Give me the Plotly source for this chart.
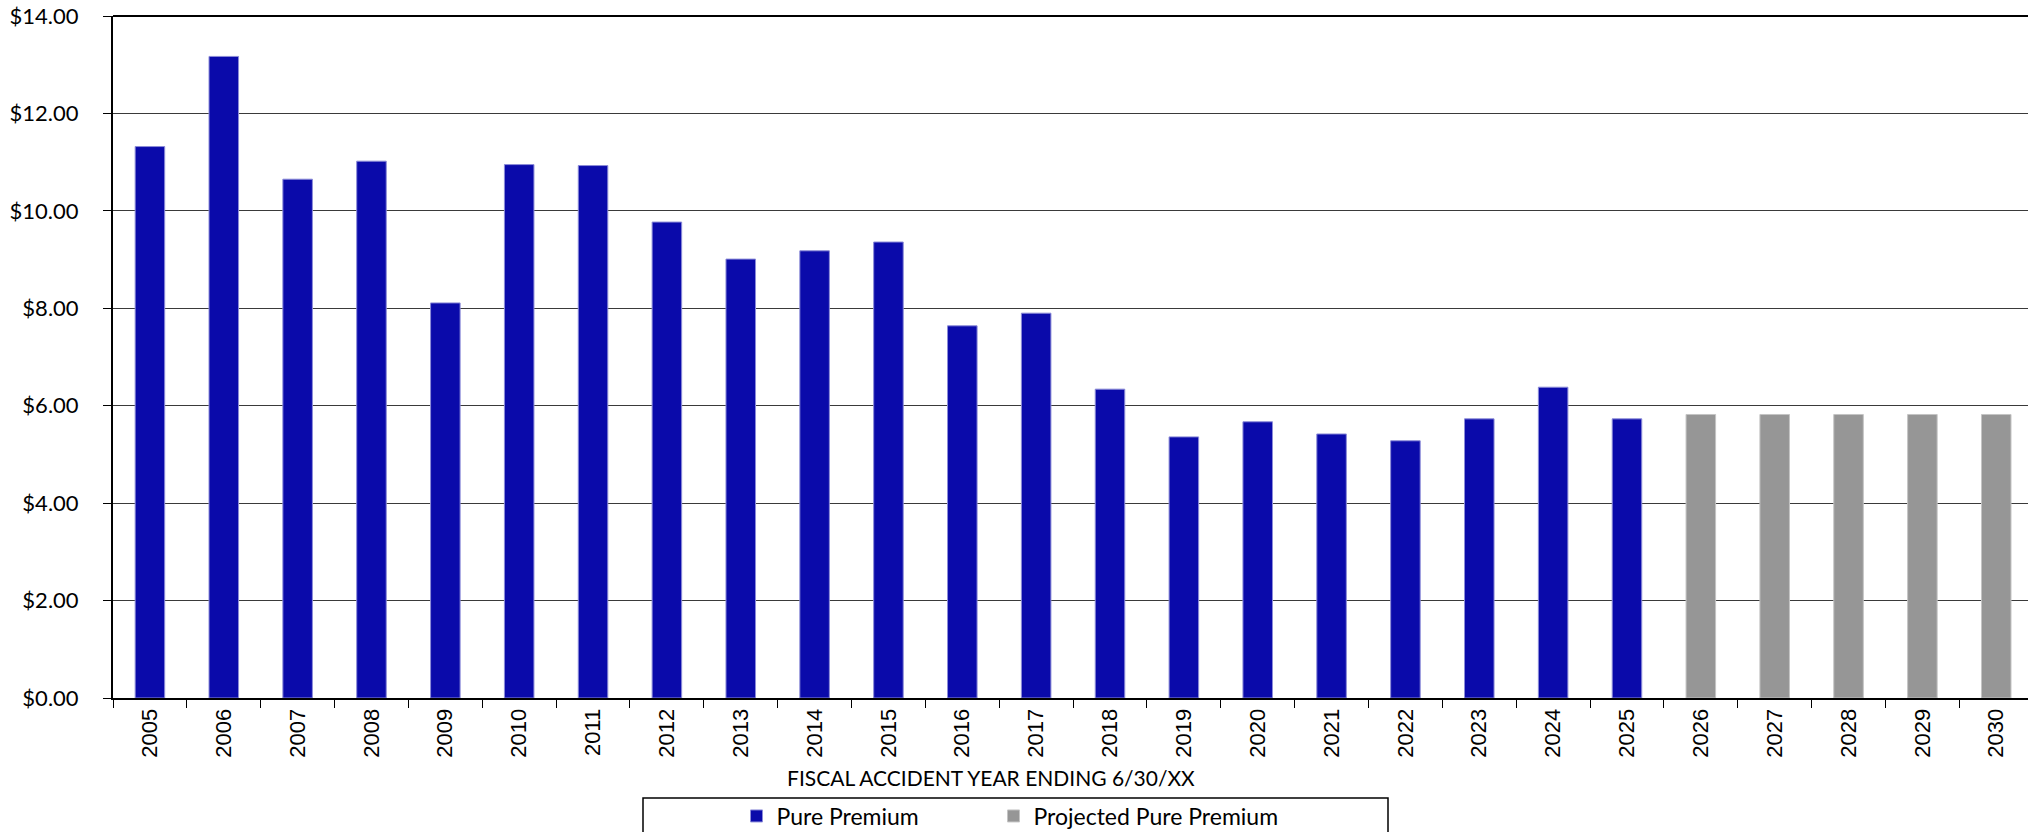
import plotly.graph_objects as go

years = [str(y) for y in range(2005, 2031)]
actual_years = years[:21]
projected_years = years[21:]
pure_premium = [11.32, 13.17, 10.65, 11.02, 8.11, 10.95, 10.93, 9.77, 9.01, 9.18,
                9.36, 7.64, 7.90, 6.34, 5.36, 5.67, 5.42, 5.28, 5.73, 6.38, 5.73]
projected_premium = [5.82, 5.82, 5.82, 5.82, 5.82]
y_ticks = [0, 2, 4, 6, 8, 10, 12, 14]
y_tick_labels = ["$%.2f" % v for v in y_ticks]

# Body margin is removed (see post_script), so figure pixels = screen pixels.
W, H = 2028, 832
ML, MR, MT = 113, 0, 16
MB = H - 698
PW, PH = W - ML - MR, H - MT - MB


def px_x(x):
    return (x - ML) / PW


def px_y(y):
    return (H - MB - y) / PH


def cx(x):
    return x / W


def cy(y):
    return 1 - y / H


fig = go.Figure()
fig.add_trace(go.Bar(
    x=actual_years, y=pure_premium, name="Pure Premium", legend="legend",
    marker=dict(color="#0A0AAA", line=dict(color="#8c8cd8", width=1)),
))
fig.add_trace(go.Bar(
    x=projected_years, y=projected_premium, name="Projected Pure Premium",
    legend="legend2",
    marker=dict(color="#969696", line=dict(color="#c4c4c4", width=1)),
))

legend_common = dict(
    orientation="h", xanchor="left", xref="container",
    yanchor="middle", yref="container",
    font=dict(family="Lato", size=23, color="#000000"),
    bgcolor="rgba(0,0,0,0)", borderwidth=0,
)

fig.update_layout(
    width=W, height=H,
    margin=dict(l=ML, r=MR, t=MT, b=MB, pad=0, autoexpand=False),
    paper_bgcolor="white", plot_bgcolor="white",
    barmode="overlay", bargap=0.6,
    showlegend=True,
    legend=dict(x=cx(757.5 - 21), y=cy(816), **legend_common),
    legend2=dict(x=cx(1013.5 - 20), y=cy(816), **legend_common),
    xaxis=dict(
        type="category", categoryorder="array", categoryarray=years,
        range=[-0.5, 25.43],
        showline=True, linecolor="#000000", linewidth=2,
        ticks="outside", ticklen=8, tickcolor="#000000", tickwidth=1,
        tickson="boundaries", tickangle=-90,
        tickfont=dict(family="Liberation Sans", size=22, color="#000000"),
        showgrid=False, mirror=False,
    ),
    yaxis=dict(
        range=[0, 14], tickvals=y_ticks, ticktext=y_tick_labels,
        showline=True, linecolor="#000000", linewidth=2,
        ticks="outside", ticklen=8, tickcolor="#000000", tickwidth=1,
        tickfont=dict(family="Lato", size=22, color="#000000"),
        ticklabelstandoff=20, ticklabeloverflow="allow",
        showgrid=True, gridcolor="#3a3a3a", gridwidth=1,
        zeroline=False,
    ),
    annotations=[dict(
        text="FISCAL ACCIDENT YEAR ENDING 6/30/XX",
        x=px_x(991), y=px_y(778), xref="paper", yref="paper",
        xanchor="center", yanchor="middle", showarrow=False,
        font=dict(family="Lato", size=21, color="#000000"),
    )],
    shapes=[
        # top border of plot area
        dict(type="line", xref="paper", yref="paper", x0=0, x1=1, y0=1, y1=1,
             line=dict(color="#000000", width=2)),
        # legend box
        dict(type="rect", xref="paper", yref="paper",
             x0=px_x(643), x1=px_x(1388), y0=px_y(850), y1=px_y(798),
             line=dict(color="#000000", width=1.5), fillcolor="rgba(0,0,0,0)"),
    ],
)

fig.write_html(
    "out.html",
    config={"displayModeBar": False},
    post_script="document.body.style.margin='0';document.body.style.overflow='hidden';",
)
